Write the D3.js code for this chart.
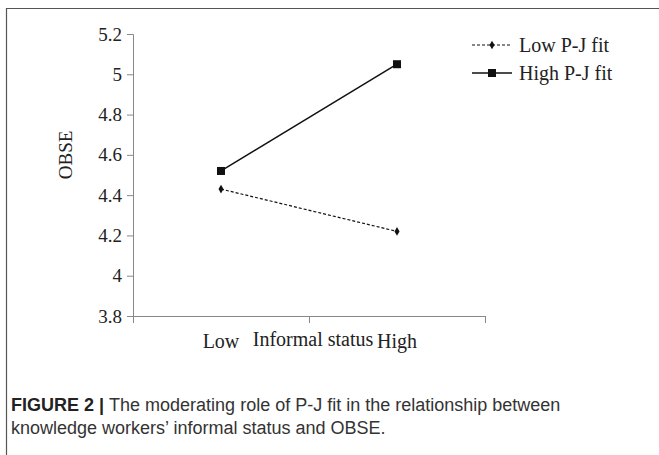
<!DOCTYPE html>
<html>
<head>
<meta charset="utf-8">
<script src="https://cdn.jsdelivr.net/npm/d3@7"></script>
<style>
  body { margin: 0; background: #fff; }
  svg { display: block; }
</style>
</head>
<body>
<div id="chart"></div>
<script>
// data
var categories = ["Low", "High"];
var seriesNames = ["Low P-J fit", "High P-J fit"];
var lowFit = [4.43, 4.22];
var highFit = [4.52, 5.05];
var yTicks = [3.8, 4, 4.2, 4.4, 4.6, 4.8, 5, 5.2];

var SERIF = "'Liberation Serif', 'Times New Roman', serif";

function init() {
    var W = 659, H = 455;
    var margin = { top: 34, left: 133 },
        width = 485 - 133,
        height = 316 - 34;

    var svg = d3.select("#chart")
        .append("svg")
        .attr("width", W)
        .attr("height", H);

    // frame lines (top + left)
    svg.append("path")
        .attr("d", "M6.5," + H + "V8.5H" + W)
        .attr("fill", "none")
        .attr("stroke", "#555")
        .attr("stroke-width", 1.2);

    var g = svg.append("g")
        .attr("transform", "translate(" + margin.left + "," + margin.top + ")");

    var x = d3.scaleBand().domain(categories).range([0, width]);
    var y = d3.scaleLinear().domain([3.8, 5.2]).range([height, 0]);

    // y axis
    var yAxis = g.append("g")
        .call(d3.axisLeft(y).tickValues(yTicks).tickSize(6).tickPadding(5)
            .tickFormat(function (d) { return d3.format("")(+d.toFixed(1)); }));
    yAxis.select(".domain").attr("stroke", "#888").attr("d", "M-6,0.5H0.5V" + height);
    yAxis.selectAll(".tick line").attr("stroke", "#888");
    yAxis.selectAll("text")
        .style("font-family", SERIF)
        .style("font-size", "19px")
        .attr("fill", "#222");

    // x axis: ticks at band boundaries, Excel style
    var xg = g.append("g").attr("transform", "translate(0," + height + ")");
    xg.append("line")
        .attr("x1", 0).attr("x2", width)
        .attr("y1", 0.5).attr("y2", 0.5)
        .attr("stroke", "#888");
    xg.selectAll(".xtick")
        .data([0].concat(categories.map(function (c) { return x(c) + x.bandwidth(); })))
        .join("line")
        .attr("class", "xtick")
        .attr("x1", function (d) { return d + 0.5; })
        .attr("x2", function (d) { return d + 0.5; })
        .attr("y1", 0).attr("y2", 7)
        .attr("stroke", "#888");
    xg.selectAll(".xlab")
        .data(categories)
        .join("text")
        .attr("class", "xlab")
        .attr("x", function (d) { return x(d) + x.bandwidth() / 2; })
        .attr("y", 32)
        .attr("text-anchor", "middle")
        .style("font-family", SERIF)
        .style("font-size", "20px")
        .attr("fill", "#222")
        .text(function (d) { return d; });
    xg.append("text")
        .attr("x", width / 2 + 4)
        .attr("y", 30)
        .attr("text-anchor", "middle")
        .style("font-family", SERIF)
        .style("font-size", "20px")
        .attr("fill", "#222")
        .text("Informal status");

    // y label
    g.append("text")
        .attr("transform", "translate(-61," + y(4.6) + ") rotate(-90)")
        .attr("text-anchor", "middle")
        .style("font-family", SERIF)
        .style("font-size", "19px")
        .attr("fill", "#222")
        .text("OBSE");

    var line = d3.line()
        .x(function (d, i) { return x(categories[i]) + x.bandwidth() / 2; })
        .y(function (d) { return y(d); });

    // low fit: dashed + small diamond
    g.append("path")
        .datum(lowFit)
        .attr("d", line)
        .attr("fill", "none")
        .attr("stroke", "#111")
        .attr("stroke-width", 1.2)
        .attr("stroke-dasharray", "3,2");
    g.selectAll(".lowpt")
        .data(lowFit)
        .join("path")
        .attr("class", "lowpt")
        .attr("d", d3.symbol(d3.symbolDiamond, 22))
        .attr("transform", function (d, i) {
            return "translate(" + (x(categories[i]) + x.bandwidth() / 2) + "," + y(d) + ")";
        })
        .attr("fill", "#111");

    // high fit: solid + square
    g.append("path")
        .datum(highFit)
        .attr("d", line)
        .attr("fill", "none")
        .attr("stroke", "#111")
        .attr("stroke-width", 1.5);
    g.selectAll(".highpt")
        .data(highFit)
        .join("rect")
        .attr("class", "highpt")
        .attr("x", function (d, i) { return x(categories[i]) + x.bandwidth() / 2 - 4; })
        .attr("y", function (d) { return y(d) - 4; })
        .attr("width", 8).attr("height", 8)
        .attr("fill", "#111");

    // legend
    var legend = svg.selectAll(".legend")
        .data(seriesNames)
        .join("g")
        .attr("class", "legend")
        .attr("transform", function (d, i) { return "translate(472," + (45 + i * 28) + ")"; });
    legend.append("line")
        .attr("x1", 0).attr("x2", 40)
        .attr("stroke", "#111")
        .attr("stroke-width", function (d, i) { return i === 0 ? 1.2 : 1.5; })
        .attr("stroke-dasharray", function (d, i) { return i === 0 ? "3,2" : null; });
    legend.append("path")
        .attr("transform", "translate(20,0)")
        .attr("d", function (d, i) {
            return i === 0 ? d3.symbol(d3.symbolDiamond, 22)() : d3.symbol(d3.symbolSquare, 64)();
        })
        .attr("fill", "#111");
    legend.append("text")
        .attr("x", 47)
        .attr("y", 0)
        .attr("dy", "0.35em")
        .style("font-family", SERIF)
        .style("font-size", "20px")
        .attr("fill", "#222")
        .text(function (d) { return d; });

    // caption
    var cap = svg.append("text")
        .attr("x", 11)
        .attr("y", 411)
        .style("font-family", "'Liberation Sans', Arial, sans-serif")
        .style("font-size", "18px")
        .attr("fill", "#333");
    cap.append("tspan").style("font-weight", "bold").attr("fill", "#222").text("FIGURE 2 | ");
    cap.append("tspan").text("The moderating role of P-J fit in the relationship between");
    svg.append("text")
        .attr("x", 11)
        .attr("y", 434)
        .style("font-family", "'Liberation Sans', Arial, sans-serif")
        .style("font-size", "18px")
        .attr("fill", "#333")
        .text("knowledge workers\u2019 informal status and OBSE.");
}

window.onload = init;
</script>
</body>
</html>
